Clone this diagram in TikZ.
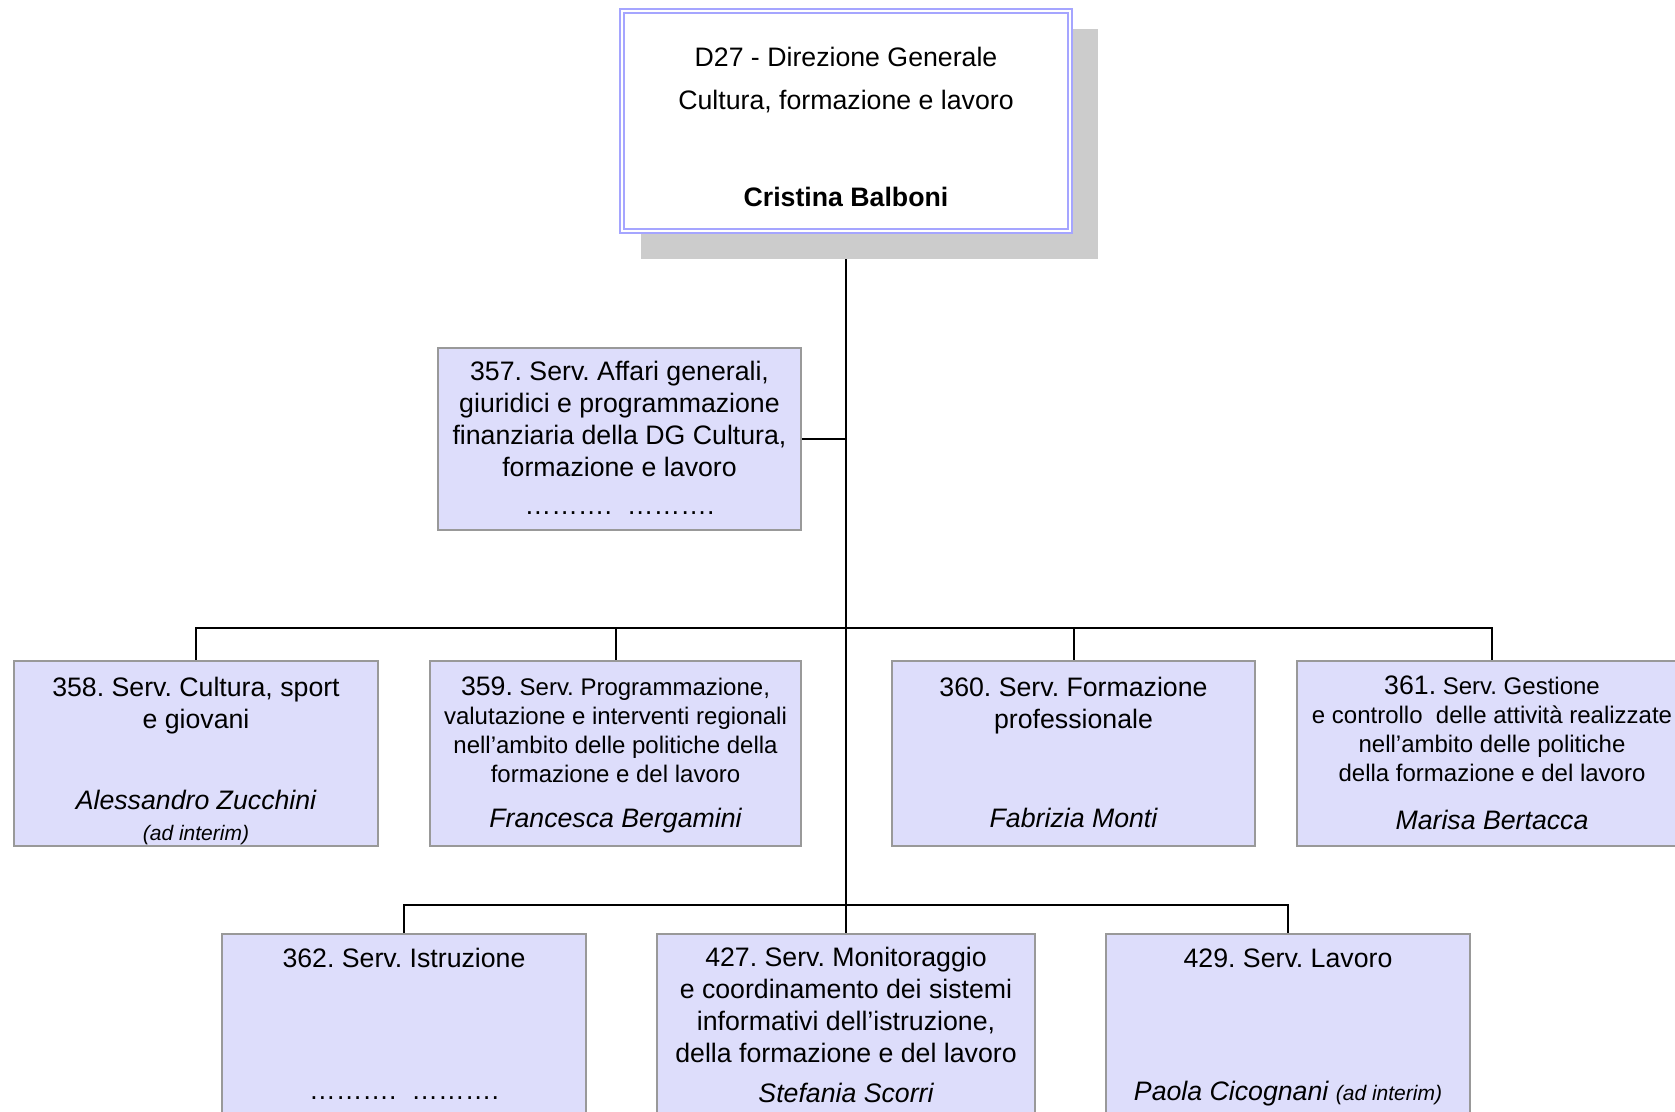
\documentclass[tikz,border=0pt]{standalone}
\usepackage{fontspec}
\setmainfont{Liberation Sans}
\usetikzlibrary{calc, backgrounds}

\definecolor{unitfill}{RGB}{221,221,251}
\definecolor{unitdraw}{RGB}{153,153,153}
\definecolor{headdraw}{RGB}{165,165,255}
\definecolor{headshadow}{RGB}{204,204,204}

\newcommand{\fmain}{\fontsize{13.35pt}{16pt}\selectfont}
\newcommand{\fsub}{\fontsize{12pt}{14.6pt}\selectfont}
\newcommand{\fnote}{\fontsize{10.5pt}{12pt}\selectfont}
\frenchspacing

\begin{document}
\begin{tikzpicture}[
    x=0.5pt, y=-0.5pt,
    unit/.style={draw=unitdraw, fill=unitfill, line width=1pt, inner sep=0pt, minimum height=92.5pt},
    head/.style={draw=headdraw, double=white, line width=1pt, double distance=1pt, fill=white, inner sep=0pt},
    title/.style={anchor=north, align=center, inner sep=0pt, font=\fmain},
    person/.style={anchor=base, inner sep=0pt, font=\fmain\itshape},
    link/.style={line width=1pt, black}
]
    \useasboundingbox (0,0) rectangle (1675,1112);

    % === Direzione Generale ===
    \node[head, minimum width=224pt, minimum height=110pt] (dg) at (846,121) {};
    \node[title] (dgt) at ($(dg.north)+(0,37)$) {D27 - Direzione Generale\\[5.5pt]Cultura, formazione e lavoro};
    \node[person, font=\fmain\bfseries] (dgp) at ($(dg.south)+(0,-25)$) {Cristina Balboni};

    % === Staff ===
    \node[unit, minimum width=181.5pt, minimum height=91pt] (b357) at (619.5,439) {};
    \node[title] (b357t) at ($(b357.north)+(0,14)$) {357. Serv. Affari generali,\\giuridici e programmazione\\finanziaria della DG Cultura,\\formazione e lavoro};
    \node[person, font=\fmain] (b357p) at ($(b357.south)+(0,-17)$) {……….~~……….};

    % === Second row ===
    \node[unit, minimum width=182pt] (b358) at (196,753.5) {};
    \node[title] (b358t) at ($(b358.north)+(0,17)$) {358. Serv. Cultura, sport\\e giovani};
    \node[person] (b358p) at ($(b358.south)+(0,-38)$) {Alessandro Zucchini};
    \node[person, font=\fnote\itshape] (b358n) at ($(b358.south)+(0,-7)$) {(ad interim)};

    \node[unit, minimum width=185.5pt] (b359) at (615.5,753.5) {};
    \node[title, font=\fsub] (b359t) at ($(b359.north)+(0,16)$) {{\fmain 359.} Serv. Programmazione,\\valutazione e interventi regionali\\nell’ambito delle politiche della\\formazione e del lavoro};
    \node[person] (b359p) at ($(b359.south)+(0,-20)$) {Francesca Bergamini};

    \node[unit, minimum width=181.5pt] (b360) at (1073.5,753.5) {};
    \node[title] (b360t) at ($(b360.north)+(0,17)$) {360. Serv. Formazione\\professionale};
    \node[person] (b360p) at ($(b360.south)+(0,-20)$) {Fabrizia Monti};

    \node[unit, minimum width=195pt] (b361) at (1492,753.5) {};
    \node[title, font=\fsub] (b361t) at ($(b361.north)+(0,15)$) {{\fmain 361.} Serv. Gestione\\e controllo~ delle attività realizzate\\nell’ambito delle politiche\\della formazione e del lavoro};
    \node[person] (b361p) at ($(b361.south)+(0,-18)$) {Marisa Bertacca};

    % === Third row ===
    \node[unit, minimum width=182pt, minimum height=94pt] (b362) at (404,1028) {};
    \node[title] (b362t) at ($(b362.north)+(0,15)$) {362. Serv. Istruzione};
    \node[person, font=\fmain] (b362p) at ($(b362.south)+(0,-24)$) {……….~~……….};

    \node[unit, minimum width=189pt, minimum height=94pt] (b427) at (846,1028) {};
    \node[title] (b427t) at ($(b427.north)+(0,14)$) {427. Serv. Monitoraggio\\e coordinamento dei sistemi\\informativi dell’istruzione,\\della formazione e del lavoro};
    \node[person] (b427p) at ($(b427.south)+(0,-21)$) {Stefania Scorri};

    \node[unit, minimum width=182pt, minimum height=94pt] (b429) at (1288,1028) {};
    \node[title] (b429t) at ($(b429.north)+(0,15)$) {429. Serv. Lavoro};
    \node[person] (b429p) at ($(b429.south)+(0,-23)$) {Paola Cicognani {\fnote (ad interim)}};

    % === Connectors ===
    \coordinate (bus2) at (846,628);
    \coordinate (bus3) at (846,905);
    \begin{scope}[on background layer]
        \draw[link] (dg.south) -- (b427.north);
        \draw[link] (b357.east) -- (b357.east -| dg.south);
        \draw[link] (b358.north) |- (bus2) -| (b361.north);
        \draw[link] (b359.north) -- (b359.north |- bus2);
        \draw[link] (b360.north) -- (b360.north |- bus2);
        \draw[link] (b362.north) |- (bus3) -| (b429.north);
        % shadow of the head box
        \fill[headshadow] ($(dg.north west)+(20,19)$) rectangle ($(dg.south east)+(27,27)$);
    \end{scope}

\end{tikzpicture}
\end{document}
